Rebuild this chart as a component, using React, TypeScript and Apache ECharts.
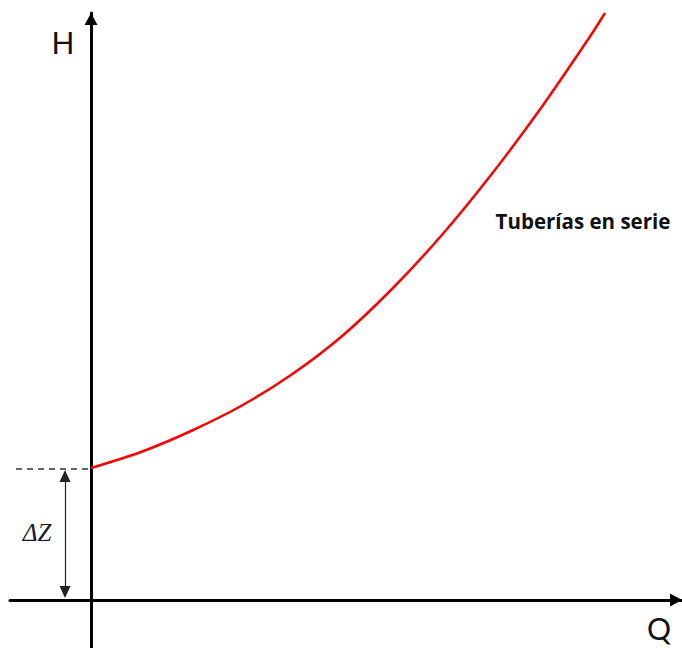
import React, { useEffect, useRef } from "react";
import * as echarts from "echarts";

// Curve: H(Q) for pipes in series (arbitrary units, 1 unit ≈ 100 px in the reference)
const flowQ = [0, 0.5, 1.0, 1.5, 2.0, 2.5, 3.0, 3.5, 4.0, 4.5, 5.0, 5.14];
const headH = [1.32, 1.48, 1.69, 1.94, 2.25, 2.63, 3.1, 3.64, 4.25, 4.92, 5.65, 5.87];
const deltaZ = 1.31;
const axisRangeX = [-0.81, 5.91];
const axisRangeY = [-0.48, 5.87];
const curveLabel = "Tuberías en serie";

export default function App() {
  const ref = useRef<HTMLDivElement>(null);
  useEffect(() => {
    document.body.style.margin = "0";
    const chart = echarts.init(ref.current!, null, { renderer: "svg" });
    const axisCommon = {
      type: "value" as const,
      axisTick: { show: false },
      axisLabel: { show: false },
      splitLine: { show: false },
      axisLine: {
        onZero: true,
        symbol: ["none", "triangle"],
        symbolSize: [13, 12],
        symbolOffset: [0, -6],
        lineStyle: { color: "#000", width: 3 },
      },
    };
    chart.setOption({
      animation: false,
      grid: { left: 10, right: 0, top: 13, bottom: 0 },
      xAxis: { ...axisCommon, min: axisRangeX[0], max: axisRangeX[1] },
      yAxis: { ...axisCommon, min: axisRangeY[0], max: axisRangeY[1] },
      series: [
        {
          type: "line",
          data: flowQ.map((q, i) => [q, headH[i]]),
          smooth: 0.3,
          showSymbol: false,
          clip: false,
          lineStyle: { color: "#ff0000", width: 2.5 },
          markLine: {
            silent: true,
            animation: false,
            symbol: "none",
            label: { show: false },
            data: [
              [
                { coord: [-0.75, deltaZ], symbol: "none", lineStyle: { type: [6, 5], width: 1.5, color: "#333" } },
                { coord: [0, deltaZ], symbol: "none" },
              ],
              [
                { coord: [-0.26, deltaZ - 0.07], symbol: "triangle", symbolSize: [11, 12], lineStyle: { type: "solid", width: 1.2, color: "#222" } },
                { coord: [-0.26, 0.08], symbol: "triangle", symbolSize: [11, 12] },
              ],
            ],
          },
        },
      ],
      graphic: [
        {
          type: "text",
          x: 63,
          y: 42,
          style: { text: "H", fill: "#111", font: "30px Lato, 'Open Sans', sans-serif", textAlign: "center", textVerticalAlign: "middle", verticalAlign: "middle" },
        },
        {
          type: "text",
          x: 659,
          y: 628,
          style: { text: "Q", fill: "#111", font: "30px Lato, 'Open Sans', sans-serif", textAlign: "center", textVerticalAlign: "middle", verticalAlign: "middle" },
        },
        {
          type: "text",
          x: 37,
          y: 532,
          style: { text: "ΔZ", fill: "#1a1a2e", font: "italic 25px 'Liberation Serif', 'DejaVu Serif', serif", textAlign: "center", textVerticalAlign: "middle", verticalAlign: "middle" },
        },
        {
          type: "text",
          x: 583,
          y: 221,
          style: { text: curveLabel, fill: "#111", font: "bold 20.5px 'Open Sans', Lato, sans-serif", textAlign: "center", textVerticalAlign: "middle", verticalAlign: "middle" },
        },
      ],
    });
    return () => chart.dispose();
  }, []);
  return <div ref={ref} style={{ width: 682, height: 648 }} />;
}
